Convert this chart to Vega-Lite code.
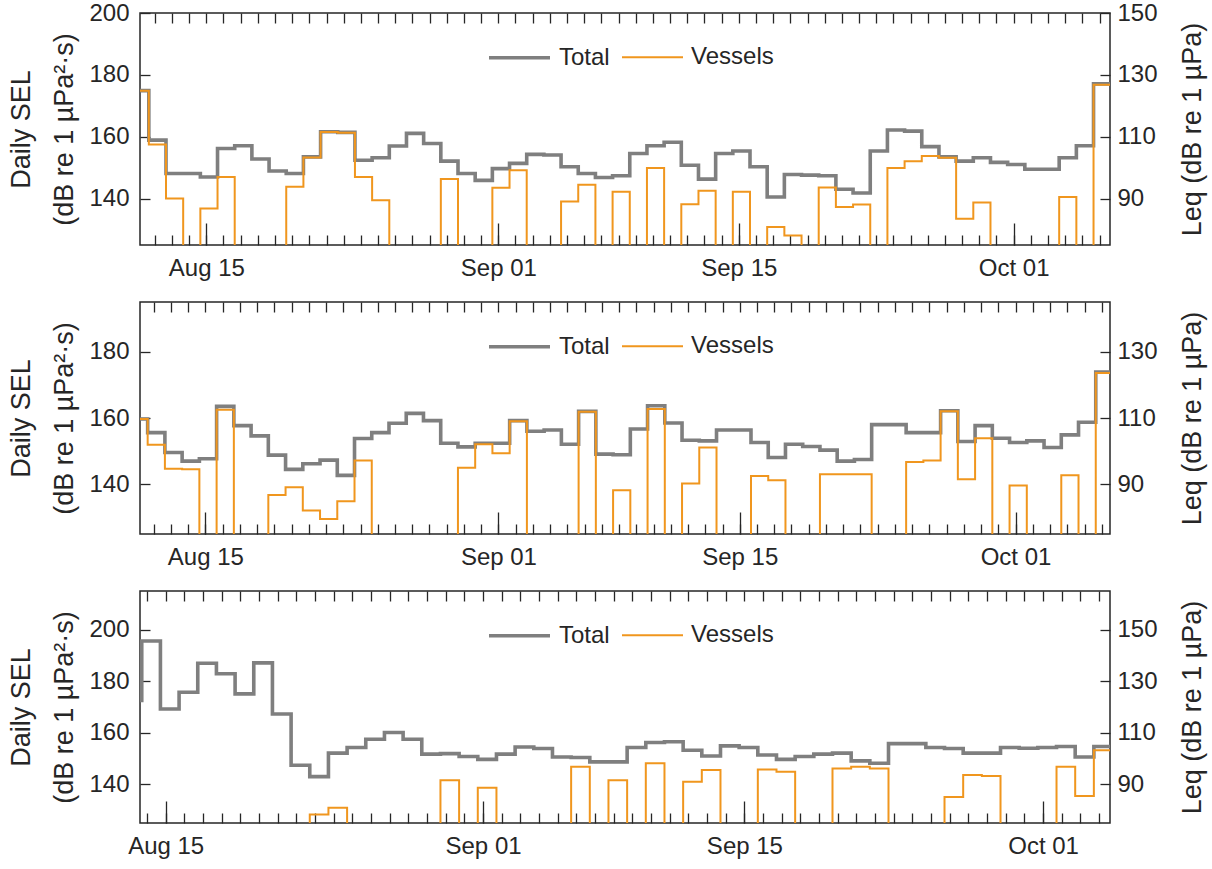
{
 "$schema": "https://vega.github.io/schema/vega-lite/v6.json",
 "padding": {"left": 7, "top": 0, "right": 5, "bottom": 5},
 "background": "white",
 "datasets": {
  "d": [
   {"p":1,"t":"2019-08-10T15:40","Total":174.9,"Vessels":174.9},
   {"p":1,"t":"2019-08-11T15:40","Total":158.9,"Vessels":157.5},
   {"p":1,"t":"2019-08-12T15:40","Total":148.1,"Vessels":140.0},
   {"p":1,"t":"2019-08-13T15:40","Total":148.1,"Vessels":100},
   {"p":1,"t":"2019-08-14T15:40","Total":147.0,"Vessels":136.8},
   {"p":1,"t":"2019-08-15T15:40","Total":156.2,"Vessels":147.0},
   {"p":1,"t":"2019-08-16T15:40","Total":157.1,"Vessels":100},
   {"p":1,"t":"2019-08-17T15:40","Total":152.8,"Vessels":100},
   {"p":1,"t":"2019-08-18T15:40","Total":148.9,"Vessels":100},
   {"p":1,"t":"2019-08-19T15:40","Total":148.1,"Vessels":143.8},
   {"p":1,"t":"2019-08-20T15:40","Total":153.5,"Vessels":153.3},
   {"p":1,"t":"2019-08-21T15:40","Total":161.6,"Vessels":161.5},
   {"p":1,"t":"2019-08-22T15:40","Total":161.4,"Vessels":161.3},
   {"p":1,"t":"2019-08-23T15:40","Total":152.4,"Vessels":147.0},
   {"p":1,"t":"2019-08-24T15:40","Total":153.2,"Vessels":139.5},
   {"p":1,"t":"2019-08-25T15:40","Total":157.0,"Vessels":100},
   {"p":1,"t":"2019-08-26T15:40","Total":161.1,"Vessels":100},
   {"p":1,"t":"2019-08-27T15:40","Total":157.8,"Vessels":100},
   {"p":1,"t":"2019-08-28T15:40","Total":152.1,"Vessels":146.3},
   {"p":1,"t":"2019-08-29T15:40","Total":148.1,"Vessels":100},
   {"p":1,"t":"2019-08-30T15:40","Total":145.9,"Vessels":100},
   {"p":1,"t":"2019-08-31T15:40","Total":149.7,"Vessels":143.5},
   {"p":1,"t":"2019-09-01T15:40","Total":151.4,"Vessels":149.2},
   {"p":1,"t":"2019-09-02T15:40","Total":154.3,"Vessels":100},
   {"p":1,"t":"2019-09-03T15:40","Total":154.1,"Vessels":100},
   {"p":1,"t":"2019-09-04T15:40","Total":150.3,"Vessels":139.1},
   {"p":1,"t":"2019-09-05T15:40","Total":148.1,"Vessels":144.5},
   {"p":1,"t":"2019-09-06T15:40","Total":146.8,"Vessels":100},
   {"p":1,"t":"2019-09-07T15:40","Total":147.4,"Vessels":142.2},
   {"p":1,"t":"2019-09-08T15:40","Total":154.6,"Vessels":100},
   {"p":1,"t":"2019-09-09T15:40","Total":157.1,"Vessels":149.9},
   {"p":1,"t":"2019-09-10T15:40","Total":158.2,"Vessels":100},
   {"p":1,"t":"2019-09-11T15:40","Total":150.8,"Vessels":138.2},
   {"p":1,"t":"2019-09-12T15:40","Total":146.3,"Vessels":142.5},
   {"p":1,"t":"2019-09-13T15:40","Total":154.6,"Vessels":100},
   {"p":1,"t":"2019-09-14T15:40","Total":155.4,"Vessels":142.2},
   {"p":1,"t":"2019-09-15T15:40","Total":150.3,"Vessels":100},
   {"p":1,"t":"2019-09-16T15:40","Total":140.5,"Vessels":130.8},
   {"p":1,"t":"2019-09-17T15:40","Total":147.8,"Vessels":128.1},
   {"p":1,"t":"2019-09-18T15:40","Total":147.6,"Vessels":100},
   {"p":1,"t":"2019-09-19T15:40","Total":147.4,"Vessels":143.6},
   {"p":1,"t":"2019-09-20T15:40","Total":143.0,"Vessels":137.3},
   {"p":1,"t":"2019-09-21T15:40","Total":141.8,"Vessels":138.1},
   {"p":1,"t":"2019-09-22T15:40","Total":155.4,"Vessels":100},
   {"p":1,"t":"2019-09-23T15:40","Total":162.2,"Vessels":149.9},
   {"p":1,"t":"2019-09-24T15:40","Total":161.8,"Vessels":152.1},
   {"p":1,"t":"2019-09-25T15:40","Total":156.8,"Vessels":153.8},
   {"p":1,"t":"2019-09-26T15:40","Total":153.5,"Vessels":153.2},
   {"p":1,"t":"2019-09-27T15:40","Total":152.1,"Vessels":133.5},
   {"p":1,"t":"2019-09-28T15:40","Total":153.2,"Vessels":138.7},
   {"p":1,"t":"2019-09-29T15:40","Total":151.7,"Vessels":100},
   {"p":1,"t":"2019-09-30T15:40","Total":151.0,"Vessels":100},
   {"p":1,"t":"2019-10-01T15:40","Total":149.5,"Vessels":100},
   {"p":1,"t":"2019-10-02T15:40","Total":149.5,"Vessels":100},
   {"p":1,"t":"2019-10-03T15:40","Total":153.2,"Vessels":140.5},
   {"p":1,"t":"2019-10-04T15:40","Total":157.1,"Vessels":100},
   {"p":1,"t":"2019-10-05T15:40","Total":177.1,"Vessels":176.8},
   {"p":1,"t":"2019-10-06T15:40","Total":177.1,"Vessels":176.8},

   {"p":2,"t":"2019-08-10T15:40","Total":159.7,"Vessels":159.7},
   {"p":2,"t":"2019-08-11T15:40","Total":155.6,"Vessels":151.9},
   {"p":2,"t":"2019-08-12T15:40","Total":149.6,"Vessels":144.7},
   {"p":2,"t":"2019-08-13T15:40","Total":147.0,"Vessels":144.5},
   {"p":2,"t":"2019-08-14T15:40","Total":147.7,"Vessels":100},
   {"p":2,"t":"2019-08-15T15:40","Total":163.5,"Vessels":162.5},
   {"p":2,"t":"2019-08-16T15:40","Total":157.7,"Vessels":100},
   {"p":2,"t":"2019-08-17T15:40","Total":154.6,"Vessels":100},
   {"p":2,"t":"2019-08-18T15:40","Total":148.8,"Vessels":136.8},
   {"p":2,"t":"2019-08-19T15:40","Total":144.5,"Vessels":139.1},
   {"p":2,"t":"2019-08-20T15:40","Total":146.2,"Vessels":132.1},
   {"p":2,"t":"2019-08-21T15:40","Total":147.3,"Vessels":129.5},
   {"p":2,"t":"2019-08-22T15:40","Total":142.7,"Vessels":134.9},
   {"p":2,"t":"2019-08-23T15:40","Total":153.8,"Vessels":147.2},
   {"p":2,"t":"2019-08-24T15:40","Total":155.6,"Vessels":100},
   {"p":2,"t":"2019-08-25T15:40","Total":158.4,"Vessels":100},
   {"p":2,"t":"2019-08-26T15:40","Total":161.4,"Vessels":100},
   {"p":2,"t":"2019-08-27T15:40","Total":159.2,"Vessels":100},
   {"p":2,"t":"2019-08-28T15:40","Total":152.4,"Vessels":100},
   {"p":2,"t":"2019-08-29T15:40","Total":151.3,"Vessels":145.0},
   {"p":2,"t":"2019-08-30T15:40","Total":152.4,"Vessels":152.1},
   {"p":2,"t":"2019-08-31T15:40","Total":152.4,"Vessels":149.4},
   {"p":2,"t":"2019-09-01T15:40","Total":159.2,"Vessels":159.0},
   {"p":2,"t":"2019-09-02T15:40","Total":156.0,"Vessels":100},
   {"p":2,"t":"2019-09-03T15:40","Total":156.4,"Vessels":100},
   {"p":2,"t":"2019-09-04T15:40","Total":152.1,"Vessels":100},
   {"p":2,"t":"2019-09-05T15:40","Total":162.0,"Vessels":161.9},
   {"p":2,"t":"2019-09-06T15:40","Total":149.1,"Vessels":100},
   {"p":2,"t":"2019-09-07T15:40","Total":148.9,"Vessels":138.2},
   {"p":2,"t":"2019-09-08T15:40","Total":156.7,"Vessels":100},
   {"p":2,"t":"2019-09-09T15:40","Total":163.7,"Vessels":162.7},
   {"p":2,"t":"2019-09-10T15:40","Total":158.5,"Vessels":100},
   {"p":2,"t":"2019-09-11T15:40","Total":153.3,"Vessels":140.2},
   {"p":2,"t":"2019-09-12T15:40","Total":153.1,"Vessels":151.1},
   {"p":2,"t":"2019-09-13T15:40","Total":156.4,"Vessels":100},
   {"p":2,"t":"2019-09-14T15:40","Total":156.4,"Vessels":100},
   {"p":2,"t":"2019-09-15T15:40","Total":152.6,"Vessels":142.5},
   {"p":2,"t":"2019-09-16T15:40","Total":148.1,"Vessels":141.2},
   {"p":2,"t":"2019-09-17T15:40","Total":152.1,"Vessels":100},
   {"p":2,"t":"2019-09-18T15:40","Total":151.4,"Vessels":100},
   {"p":2,"t":"2019-09-19T15:40","Total":150.3,"Vessels":143.0},
   {"p":2,"t":"2019-09-20T15:40","Total":147.0,"Vessels":143.0},
   {"p":2,"t":"2019-09-21T15:40","Total":147.5,"Vessels":143.0},
   {"p":2,"t":"2019-09-22T15:40","Total":158.0,"Vessels":100},
   {"p":2,"t":"2019-09-23T15:40","Total":158.0,"Vessels":100},
   {"p":2,"t":"2019-09-24T15:40","Total":155.6,"Vessels":146.7},
   {"p":2,"t":"2019-09-25T15:40","Total":155.6,"Vessels":147.2},
   {"p":2,"t":"2019-09-26T15:40","Total":162.2,"Vessels":162.0},
   {"p":2,"t":"2019-09-27T15:40","Total":152.9,"Vessels":141.5},
   {"p":2,"t":"2019-09-28T15:40","Total":157.7,"Vessels":153.9},
   {"p":2,"t":"2019-09-29T15:40","Total":153.9,"Vessels":100},
   {"p":2,"t":"2019-09-30T15:40","Total":152.6,"Vessels":139.6},
   {"p":2,"t":"2019-10-01T15:40","Total":153.1,"Vessels":100},
   {"p":2,"t":"2019-10-02T15:40","Total":151.1,"Vessels":100},
   {"p":2,"t":"2019-10-03T15:40","Total":154.9,"Vessels":142.7},
   {"p":2,"t":"2019-10-04T15:40","Total":158.7,"Vessels":100},
   {"p":2,"t":"2019-10-05T15:40","Total":173.9,"Vessels":173.6},
   {"p":2,"t":"2019-10-06T15:40","Total":173.9,"Vessels":173.6},

   {"p":3,"t":"2019-08-12T17:15","Total":172.5,"Vessels":100},
   {"p":3,"t":"2019-08-13T17:15","Total":195.6,"Vessels":100},
   {"p":3,"t":"2019-08-14T17:15","Total":169.2,"Vessels":100},
   {"p":3,"t":"2019-08-15T17:15","Total":175.7,"Vessels":100},
   {"p":3,"t":"2019-08-16T17:15","Total":187.0,"Vessels":100},
   {"p":3,"t":"2019-08-17T17:15","Total":182.9,"Vessels":100},
   {"p":3,"t":"2019-08-18T17:15","Total":175.1,"Vessels":100},
   {"p":3,"t":"2019-08-19T17:15","Total":187.1,"Vessels":100},
   {"p":3,"t":"2019-08-20T17:15","Total":167.3,"Vessels":100},
   {"p":3,"t":"2019-08-21T17:15","Total":147.4,"Vessels":100},
   {"p":3,"t":"2019-08-22T17:15","Total":143.0,"Vessels":128.3},
   {"p":3,"t":"2019-08-23T17:15","Total":152.1,"Vessels":130.9},
   {"p":3,"t":"2019-08-24T17:15","Total":154.3,"Vessels":100},
   {"p":3,"t":"2019-08-25T17:15","Total":157.5,"Vessels":100},
   {"p":3,"t":"2019-08-26T17:15","Total":160.1,"Vessels":100},
   {"p":3,"t":"2019-08-27T17:15","Total":157.5,"Vessels":100},
   {"p":3,"t":"2019-08-28T17:15","Total":151.7,"Vessels":100},
   {"p":3,"t":"2019-08-29T17:15","Total":151.9,"Vessels":141.6},
   {"p":3,"t":"2019-08-30T17:15","Total":150.8,"Vessels":100},
   {"p":3,"t":"2019-08-31T17:15","Total":149.7,"Vessels":138.7},
   {"p":3,"t":"2019-09-01T17:15","Total":151.7,"Vessels":100},
   {"p":3,"t":"2019-09-02T17:15","Total":154.5,"Vessels":100},
   {"p":3,"t":"2019-09-03T17:15","Total":153.9,"Vessels":100},
   {"p":3,"t":"2019-09-04T17:15","Total":150.6,"Vessels":100},
   {"p":3,"t":"2019-09-05T17:15","Total":150.4,"Vessels":146.8},
   {"p":3,"t":"2019-09-06T17:15","Total":148.7,"Vessels":100},
   {"p":3,"t":"2019-09-07T17:15","Total":148.7,"Vessels":141.6},
   {"p":3,"t":"2019-09-08T17:15","Total":154.3,"Vessels":100},
   {"p":3,"t":"2019-09-09T17:15","Total":156.2,"Vessels":148.2},
   {"p":3,"t":"2019-09-10T17:15","Total":156.5,"Vessels":100},
   {"p":3,"t":"2019-09-11T17:15","Total":153.2,"Vessels":141.0},
   {"p":3,"t":"2019-09-12T17:15","Total":151.0,"Vessels":145.6},
   {"p":3,"t":"2019-09-13T17:15","Total":154.9,"Vessels":100},
   {"p":3,"t":"2019-09-14T17:15","Total":154.3,"Vessels":100},
   {"p":3,"t":"2019-09-15T17:15","Total":151.4,"Vessels":145.8},
   {"p":3,"t":"2019-09-16T17:15","Total":149.7,"Vessels":144.9},
   {"p":3,"t":"2019-09-17T17:15","Total":150.8,"Vessels":100},
   {"p":3,"t":"2019-09-18T17:15","Total":151.7,"Vessels":100},
   {"p":3,"t":"2019-09-19T17:15","Total":152.1,"Vessels":146.1},
   {"p":3,"t":"2019-09-20T17:15","Total":149.1,"Vessels":146.8},
   {"p":3,"t":"2019-09-21T17:15","Total":148.2,"Vessels":146.1},
   {"p":3,"t":"2019-09-22T17:15","Total":155.8,"Vessels":100},
   {"p":3,"t":"2019-09-23T17:15","Total":155.8,"Vessels":100},
   {"p":3,"t":"2019-09-24T17:15","Total":154.3,"Vessels":100},
   {"p":3,"t":"2019-09-25T17:15","Total":153.9,"Vessels":135.1},
   {"p":3,"t":"2019-09-26T17:15","Total":152.1,"Vessels":143.6},
   {"p":3,"t":"2019-09-27T17:15","Total":152.1,"Vessels":143.2},
   {"p":3,"t":"2019-09-28T17:15","Total":154.3,"Vessels":100},
   {"p":3,"t":"2019-09-29T17:15","Total":154.0,"Vessels":100},
   {"p":3,"t":"2019-09-30T17:15","Total":154.3,"Vessels":100},
   {"p":3,"t":"2019-10-01T17:15","Total":154.7,"Vessels":146.8},
   {"p":3,"t":"2019-10-02T17:15","Total":150.6,"Vessels":135.5},
   {"p":3,"t":"2019-10-03T17:15","Total":154.7,"Vessels":153.2},
   {"p":3,"t":"2019-10-04T17:15","Total":154.7,"Vessels":153.2}
  ]
 },
 "data": {"name": "d"},
 "transform": [{"fold": ["Total", "Vessels"], "as": ["s", "v"]}],
 "bounds": "flush",
 "spacing": 57,
 "resolve": {"scale": {"color": "independent", "strokeWidth": "independent"}, "legend": {"color": "independent", "strokeWidth": "independent"}},
 "vconcat": [
    {
     "width": 970, "height": 232,
     "transform": [{"filter": {"field": "p", "equal": 1}}],
     "resolve": {"axis": {"x": "independent", "y": "independent"}},
     "layer": [
      {
       "transform": [{"filter": {"field": "s", "equal": "Total"}}],
       "mark": {"type": "line", "interpolate": "step-after", "clip": true},
       "encoding": {
        "x": {"field": "t", "type": "temporal", "scale": {"domain": [{"year":2019,"month":8,"date":11,"hours":3,"minutes":20},{"year":2019,"month":10,"date":6,"hours":14,"minutes":40}], "nice": false},
              "axis": {"orient": "bottom", "values": [{"year":2019,"month":8,"date":15},{"year":2019,"month":9,"date":1},{"year":2019,"month":9,"date":15},{"year":2019,"month":10,"date":1}], "format": "%b %d", "tickSize": -22, "labelPadding": 33, "title": null}},
        "y": {"field": "v", "type": "quantitative", "scale": {"domain": [125, 200], "nice": false, "zero": false},
              "axis": {"orient": "left", "values": [140, 160, 180, 200], "tickSize": -10, "labelPadding": 21, "title": ["Daily SEL", "(dB re 1 µPa²·s)"], "titleLineHeight": 43, "titlePadding": 10}},
        "color": {"field": "s", "type": "nominal", "scale": {"domain": ["Total", "Vessels"], "range": ["#7f7f7f", "#f0961e"]}, "legend": {"orient": "none", "legendX": 347, "legendY": 12, "direction": "horizontal", "title": null}},
        "strokeWidth": {"field": "s", "type": "nominal", "scale": {"domain": ["Total", "Vessels"], "range": [3.6, 2]}, "legend": {"orient": "none", "legendX": 347, "legendY": 12, "direction": "horizontal", "title": null}}
       }
      },
      {
       "transform": [{"filter": {"field": "s", "equal": "Vessels"}}],
       "mark": {"type": "line", "interpolate": "step-after", "clip": true},
       "encoding": {
        "x": {"field": "t", "type": "temporal", "scale": {"domain": [{"year":2019,"month":8,"date":11,"hours":3,"minutes":20},{"year":2019,"month":10,"date":6,"hours":14,"minutes":40}], "nice": false},
              "axis": {"orient": "bottom", "tickCount": {"interval": "day", "step": 1}, "tickSize": -10, "labels": false, "title": null}},
        "y": {"field": "v", "type": "quantitative", "scale": {"domain": [125, 200], "nice": false, "zero": false},
              "axis": {"orient": "right", "values": [140, 160, 180, 200], "labelExpr": "datum.value - 50", "tickSize": -10, "labelPadding": 17, "title": "Leq (dB re 1 µPa)", "titleAngle": 270, "titleBaseline": "top", "titlePadding": 22}},
        "color": {"field": "s", "type": "nominal", "scale": {"domain": ["Total", "Vessels"], "range": ["#7f7f7f", "#f0961e"]}, "legend": {"orient": "none", "legendX": 347, "legendY": 12, "direction": "horizontal", "title": null}},
        "strokeWidth": {"field": "s", "type": "nominal", "scale": {"domain": ["Total", "Vessels"], "range": [3.6, 2]}, "legend": {"orient": "none", "legendX": 347, "legendY": 12, "direction": "horizontal", "title": null}}
       }
      },
      {
       "mark": {"type": "rule", "opacity": 0, "clip": true},
       "encoding": {
        "x": {"field": "t", "type": "temporal", "scale": {"domain": [{"year":2019,"month":8,"date":11,"hours":3,"minutes":20},{"year":2019,"month":10,"date":6,"hours":14,"minutes":40}], "nice": false},
              "axis": {"orient": "top", "tickCount": {"interval": "day", "step": 1}, "tickSize": -10, "labels": false, "title": null}}
       }
      }
     ]
    },
    {
     "width": 970, "height": 232,
     "transform": [{"filter": {"field": "p", "equal": 2}}],
     "resolve": {"axis": {"x": "independent", "y": "independent"}},
     "layer": [
      {
       "transform": [{"filter": {"field": "s", "equal": "Total"}}],
       "mark": {"type": "line", "interpolate": "step-after", "clip": true},
       "encoding": {
        "x": {"field": "t", "type": "temporal", "scale": {"domain": [{"year":2019,"month":8,"date":11,"hours":5},{"year":2019,"month":10,"date":6,"hours":11,"minutes":30}], "nice": false},
              "axis": {"orient": "bottom", "values": [{"year":2019,"month":8,"date":15},{"year":2019,"month":9,"date":1},{"year":2019,"month":9,"date":15},{"year":2019,"month":10,"date":1}], "format": "%b %d", "tickSize": -22, "labelPadding": 33, "title": null}},
        "y": {"field": "v", "type": "quantitative", "scale": {"domain": [125, 195], "nice": false, "zero": false},
              "axis": {"orient": "left", "values": [140, 160, 180], "tickSize": -10, "labelPadding": 21, "title": ["Daily SEL", "(dB re 1 µPa²·s)"], "titleLineHeight": 43, "titlePadding": 10}},
        "color": {"field": "s", "type": "nominal", "scale": {"domain": ["Total", "Vessels"], "range": ["#7f7f7f", "#f0961e"]}, "legend": {"orient": "none", "legendX": 347, "legendY": 12, "direction": "horizontal", "title": null}},
        "strokeWidth": {"field": "s", "type": "nominal", "scale": {"domain": ["Total", "Vessels"], "range": [3.6, 2]}, "legend": {"orient": "none", "legendX": 347, "legendY": 12, "direction": "horizontal", "title": null}}
       }
      },
      {
       "transform": [{"filter": {"field": "s", "equal": "Vessels"}}],
       "mark": {"type": "line", "interpolate": "step-after", "clip": true},
       "encoding": {
        "x": {"field": "t", "type": "temporal", "scale": {"domain": [{"year":2019,"month":8,"date":11,"hours":5},{"year":2019,"month":10,"date":6,"hours":11,"minutes":30}], "nice": false},
              "axis": {"orient": "bottom", "tickCount": {"interval": "day", "step": 1}, "tickSize": -10, "labels": false, "title": null}},
        "y": {"field": "v", "type": "quantitative", "scale": {"domain": [125, 195], "nice": false, "zero": false},
              "axis": {"orient": "right", "values": [140, 160, 180], "labelExpr": "datum.value - 50", "tickSize": -10, "labelPadding": 17, "title": "Leq (dB re 1 µPa)", "titleAngle": 270, "titleBaseline": "top", "titlePadding": 22}},
        "color": {"field": "s", "type": "nominal", "scale": {"domain": ["Total", "Vessels"], "range": ["#7f7f7f", "#f0961e"]}, "legend": {"orient": "none", "legendX": 347, "legendY": 12, "direction": "horizontal", "title": null}},
        "strokeWidth": {"field": "s", "type": "nominal", "scale": {"domain": ["Total", "Vessels"], "range": [3.6, 2]}, "legend": {"orient": "none", "legendX": 347, "legendY": 12, "direction": "horizontal", "title": null}}
       }
      },
      {
       "mark": {"type": "rule", "opacity": 0, "clip": true},
       "encoding": {
        "x": {"field": "t", "type": "temporal", "scale": {"domain": [{"year":2019,"month":8,"date":11,"hours":5},{"year":2019,"month":10,"date":6,"hours":11,"minutes":30}], "nice": false},
              "axis": {"orient": "top", "tickCount": {"interval": "day", "step": 1}, "tickSize": -10, "labels": false, "title": null}}
       }
      }
     ]
    },
    {
     "width": 970, "height": 232,
     "transform": [{"filter": {"field": "p", "equal": 3}}],
     "resolve": {"axis": {"x": "independent", "y": "independent"}},
     "layer": [
      {
       "transform": [{"filter": {"field": "s", "equal": "Total"}}],
       "mark": {"type": "line", "interpolate": "step-after", "clip": true},
       "encoding": {
        "x": {"field": "t", "type": "temporal", "scale": {"domain": [{"year":2019,"month":8,"date":13,"hours":15},{"year":2019,"month":10,"date":4,"hours":14}], "nice": false},
              "axis": {"orient": "bottom", "values": [{"year":2019,"month":8,"date":15},{"year":2019,"month":9,"date":1},{"year":2019,"month":9,"date":15},{"year":2019,"month":10,"date":1}], "format": "%b %d", "tickSize": -22, "labelPadding": 33, "title": null}},
        "y": {"field": "v", "type": "quantitative", "scale": {"domain": [125, 215], "nice": false, "zero": false},
              "axis": {"orient": "left", "values": [140, 160, 180, 200], "tickSize": -10, "labelPadding": 21, "title": ["Daily SEL", "(dB re 1 µPa²·s)"], "titleLineHeight": 43, "titlePadding": 10}},
        "color": {"field": "s", "type": "nominal", "scale": {"domain": ["Total", "Vessels"], "range": ["#7f7f7f", "#f0961e"]}, "legend": {"orient": "none", "legendX": 347, "legendY": 12, "direction": "horizontal", "title": null}},
        "strokeWidth": {"field": "s", "type": "nominal", "scale": {"domain": ["Total", "Vessels"], "range": [3.6, 2]}, "legend": {"orient": "none", "legendX": 347, "legendY": 12, "direction": "horizontal", "title": null}}
       }
      },
      {
       "transform": [{"filter": {"field": "s", "equal": "Vessels"}}],
       "mark": {"type": "line", "interpolate": "step-after", "clip": true},
       "encoding": {
        "x": {"field": "t", "type": "temporal", "scale": {"domain": [{"year":2019,"month":8,"date":13,"hours":15},{"year":2019,"month":10,"date":4,"hours":14}], "nice": false},
              "axis": {"orient": "bottom", "tickCount": {"interval": "day", "step": 1}, "tickSize": -10, "labels": false, "title": null}},
        "y": {"field": "v", "type": "quantitative", "scale": {"domain": [125, 215], "nice": false, "zero": false},
              "axis": {"orient": "right", "values": [140, 160, 180, 200], "labelExpr": "datum.value - 50", "tickSize": -10, "labelPadding": 17, "title": "Leq (dB re 1 µPa)", "titleAngle": 270, "titleBaseline": "top", "titlePadding": 22}},
        "color": {"field": "s", "type": "nominal", "scale": {"domain": ["Total", "Vessels"], "range": ["#7f7f7f", "#f0961e"]}, "legend": {"orient": "none", "legendX": 347, "legendY": 12, "direction": "horizontal", "title": null}},
        "strokeWidth": {"field": "s", "type": "nominal", "scale": {"domain": ["Total", "Vessels"], "range": [3.6, 2]}, "legend": {"orient": "none", "legendX": 347, "legendY": 12, "direction": "horizontal", "title": null}}
       }
      },
      {
       "mark": {"type": "rule", "opacity": 0, "clip": true},
       "encoding": {
        "x": {"field": "t", "type": "temporal", "scale": {"domain": [{"year":2019,"month":8,"date":13,"hours":15},{"year":2019,"month":10,"date":4,"hours":14}], "nice": false},
              "axis": {"orient": "top", "tickCount": {"interval": "day", "step": 1}, "tickSize": -10, "labels": false, "title": null}}
       }
      }
     ]
    }
 ],
 "config": {
  "font": "Liberation Sans",
  "view": {"stroke": "#262626", "strokeWidth": 1.5},
  "axis": {"domain": false, "grid": false, "tickColor": "#262626", "tickWidth": 1.3, "labelFont": "Liberation Sans", "labelFontSize": 24, "labelColor": "#262626", "titleFont": "Liberation Sans", "titleFontSize": 27, "titleFontWeight": "normal", "titleColor": "#262626"},
  "legend": {"symbolType": "stroke", "symbolSize": 3721, "labelFont": "Liberation Sans", "labelFontSize": 24, "labelColor": "#262626", "labelOffset": 7, "columnPadding": 8, "padding": 0}
 }
}
